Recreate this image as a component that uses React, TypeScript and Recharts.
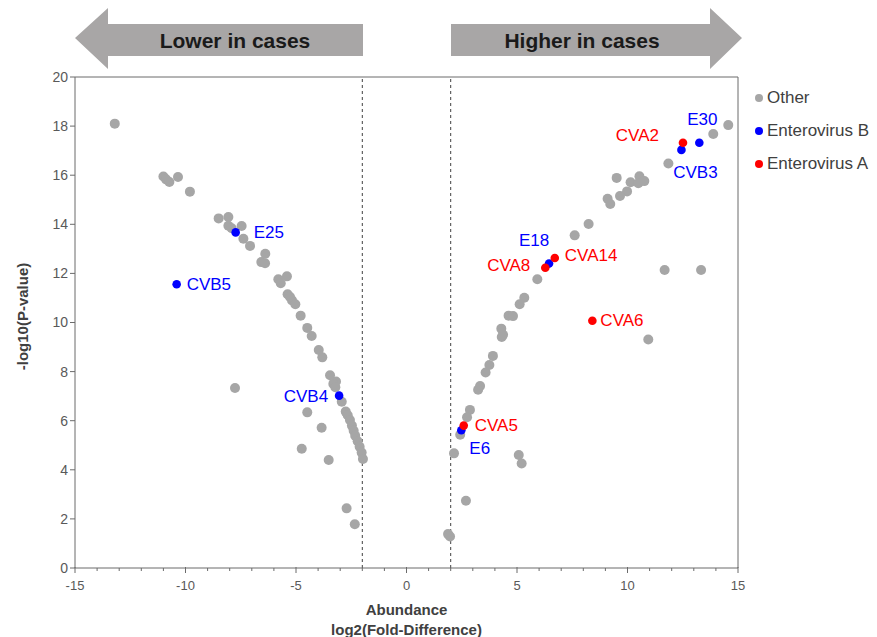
import {
  ScatterChart,
  Scatter,
  XAxis,
  YAxis,
  ReferenceLine,
  Label,
} from "recharts";

// "Other" viruses
const OTHER_X = [
  -13.2, -11.0, -10.88, -10.73, -10.34, -9.8, -8.5, -8.06, -8.06, -7.91, -7.46, -7.38,
  -7.08, -6.39, -6.57, -6.4, -5.8, -5.69, -5.41, -5.38, -5.27, -5.18, -5.03, -4.79,
  -4.49, -4.29, -3.97, -3.81, -3.46, -3.19, -3.31, -3.22, -2.93, -2.75, -2.66, -2.56,
  -2.47, -2.39, -2.32, -2.21, -2.12, -2.03, -1.97, -7.76, -4.49, -3.84, -4.74, -3.52,
  -2.71, -2.34,
  14.56, 13.88, 11.85, 9.51, 10.54, 10.14, 10.49, 10.76, 9.98, 9.66, 9.1, 9.22, 8.24,
  7.61, 11.68, 13.33, 5.92, 5.33, 5.12, 4.62, 4.82, 10.94, 4.29, 4.31, 4.37, 3.91,
  3.75, 3.58, 3.33, 3.24, 2.87, 2.74, 2.43, 2.15, 5.08, 5.21, 2.69, 1.88, 1.97,
];
const OTHER_Y = [
  18.1, 15.95, 15.83, 15.72, 15.93, 15.33, 14.24, 14.3, 13.94, 13.84, 13.93, 13.41,
  13.12, 12.8, 12.46, 12.41, 11.76, 11.6, 11.88, 11.15, 11.04, 10.9, 10.74, 10.28,
  9.78, 9.45, 8.88, 8.58, 7.85, 7.6, 7.5, 7.36, 6.77, 6.37, 6.22, 6.03,
  5.8, 5.59, 5.39, 5.16, 4.94, 4.7, 4.44, 7.33, 6.34, 5.71, 4.86, 4.4,
  2.43, 1.78,
  18.04, 17.68, 16.48, 15.89, 15.96, 15.71, 15.67, 15.76, 15.34, 15.15, 15.04, 14.83, 14.01,
  13.55, 12.14, 12.14, 11.76, 11.01, 10.74, 10.28, 10.26, 9.31, 9.75, 9.41, 9.5, 8.64,
  8.27, 7.96, 7.41, 7.26, 6.44, 6.14, 5.43, 4.67, 4.6, 4.26, 2.74, 1.38, 1.28,
];

// Enterovirus B
const ENT_B_NAMES = ["E25", "CVB5", "CVB4", "E30", "CVB3", "E18", "E6"];
const ENT_B_X = [-7.73, -10.4, -3.05, 13.25, 12.44, 6.45, 2.48];
const ENT_B_Y = [13.67, 11.56, 7.02, 17.32, 17.03, 12.4, 5.61];

// Enterovirus A
const ENT_A_NAMES = ["CVA2", "CVA14", "CVA8", "CVA6", "CVA5"];
const ENT_A_X = [12.51, 6.71, 6.28, 8.41, 2.59];
const ENT_A_Y = [17.32, 12.63, 12.23, 10.07, 5.8];

const X_TICKS = Array.from({ length: 31 }, (_, i) => i - 15);
const Y_TICKS = [0, 2, 4, 6, 8, 10, 12, 14, 16, 18, 20];

const GRAY = "#a6a6a6";
const BLUE = "#0000ff";
const RED = "#ff0000";
const AXIS = "#6b6b6b";
const TICK_TEXT = "#595959";
const NARROW = "'Liberation Sans Narrow', 'Liberation Sans', Arial, sans-serif";
const SANS = "'Liberation Sans', Arial, sans-serif";

// where each point label sits relative to its dot
const LABEL_PLACE: Record<string, { dx: number; dy: number; anchor: string }> = {
  E25: { dx: 18, dy: 0, anchor: "start" },
  CVB5: { dx: 10, dy: 0, anchor: "start" },
  CVB4: { dx: -11, dy: 1, anchor: "end" },
  E30: { dx: 3, dy: -23, anchor: "middle" },
  CVA2: { dx: -24, dy: -7, anchor: "end" },
  CVB3: { dx: 14, dy: 23, anchor: "middle" },
  E18: { dx: -15, dy: -23, anchor: "middle" },
  CVA14: { dx: 10, dy: -2, anchor: "start" },
  CVA8: { dx: -15, dy: -2, anchor: "end" },
  CVA6: { dx: 8, dy: 0, anchor: "start" },
  CVA5: { dx: 11, dy: 0, anchor: "start" },
  E6: { dx: 8, dy: 18, anchor: "start" },
};

const otherData = OTHER_X.map((x, i) => ({ x, y: OTHER_Y[i] }));
const entBData = ENT_B_NAMES.map((name, i) => ({ name, x: ENT_B_X[i], y: ENT_B_Y[i] }));
const entAData = ENT_A_NAMES.map((name, i) => ({ name, x: ENT_A_X[i], y: ENT_A_Y[i] }));

const grayDot = (props: any) => (
  <circle cx={props.cx} cy={props.cy} r={5} fill={GRAY} />
);

const labelledDot = (color: string) => (props: any) => {
  const p = LABEL_PLACE[props.payload?.name] || { dx: 10, dy: 0, anchor: "start" };
  return (
    <g>
      <circle cx={props.cx} cy={props.cy} r={4.3} fill={color} />
      <text
        x={props.cx + p.dx}
        y={props.cy + p.dy}
        textAnchor={p.anchor as any}
        dominantBaseline="central"
        fontSize={17}
        fontFamily={SANS}
        fill={color}
      >
        {props.payload?.name}
      </text>
    </g>
  );
};

// tick y arrives 8px below the axis line (tickSize 6 + margin 2)
const XTick = (props: any) => {
  const { x, y, payload } = props;
  const major = payload.value % 5 === 0;
  const axisY = y - 8;
  return (
    <g>
      <line x1={x} x2={x} y1={axisY - (major ? 1 : 0)} y2={axisY + (major ? 5 : 3)} stroke={AXIS} />
      {major && (
        <text x={x} y={axisY + 22} textAnchor="middle" fontSize={13} fontFamily={SANS} fill={TICK_TEXT}>
          {payload.value}
        </text>
      )}
    </g>
  );
};

const XTitle = (props: any) => {
  const vb = props.viewBox || {};
  const cx = vb.x + vb.width / 2;
  return (
    <text textAnchor="middle" fontSize={15} fontWeight="bold" fontFamily={NARROW} fill="#404040">
      <tspan x={cx} y={615}>Abundance</tspan>
      <tspan x={cx} y={635}>log2(Fold-Difference)</tspan>
    </text>
  );
};

const LEGEND_ITEMS = [
  { label: "Other", color: GRAY },
  { label: "Enterovirus B", color: BLUE },
  { label: "Enterovirus A", color: RED },
];

function Arrows() {
  return (
    <svg
      width={877}
      height={80}
      style={{ position: "absolute", left: 0, top: 0, pointerEvents: "none" }}
    >
      <polygon points="75,38 108,8 108,24 363,24 363,56 108,56 108,69" fill="#a8a6a6" />
      <polygon points="742,38 710,8 710,24 451,24 451,56 710,56 710,69" fill="#a8a6a6" />
      <text x={235} y={48} textAnchor="middle" fontSize={21} fontWeight="bold" fontFamily={NARROW} fill="#1a1a1a">
        Lower in cases
      </text>
      <text x={582} y={48} textAnchor="middle" fontSize={21} fontWeight="bold" fontFamily={NARROW} fill="#1a1a1a">
        Higher in cases
      </text>
    </svg>
  );
}

function LegendBox() {
  return (
    <div style={{ position: "absolute", left: 752, top: 81 }}>
      {LEGEND_ITEMS.map((it) => (
        <div
          key={it.label}
          style={{ display: "flex", alignItems: "center", height: 33, fontFamily: SANS, fontSize: 17, color: "#404040" }}
        >
          <span
            style={{ width: 8, height: 8, borderRadius: 4, background: it.color, marginRight: 4, marginLeft: 3 }}
          />
          {it.label}
        </div>
      ))}
    </div>
  );
}

export default function App() {
  return (
    <div style={{ position: "absolute", left: 0, top: 0, width: 877, height: 637, background: "#fff" }}>
      <ScatterChart width={877} height={637} margin={{ top: 77, right: 139, bottom: 39, left: 30 }}>
        <XAxis
          type="number"
          dataKey="x"
          domain={[-15, 15]}
          ticks={X_TICKS}
          interval={0}
          tick={<XTick />}
          tickLine={false}
          axisLine={{ stroke: AXIS }}
          height={30}
        >
          <Label content={<XTitle />} />
        </XAxis>
        <YAxis
          type="number"
          dataKey="y"
          domain={[0, 20]}
          ticks={Y_TICKS}
          interval={0}
          width={45}
          tick={{ fontSize: 14, fill: TICK_TEXT, fontFamily: SANS }}
          tickLine={{ stroke: AXIS }}
          tickSize={5}
          axisLine={{ stroke: AXIS }}
        >
          <Label
            value="-log10(P-value)"
            angle={-90}
            position="insideLeft"
            offset={-7}
            dy={-6}
            style={{ textAnchor: "middle", fontSize: 15, fontWeight: "bold", fontFamily: NARROW, fill: "#404040" }}
          />
        </YAxis>
        <ReferenceLine y={20} stroke={AXIS} />
        <ReferenceLine x={15} stroke={AXIS} />
        <ReferenceLine x={-2} stroke="#404040" strokeDasharray="3 3" />
        <ReferenceLine x={2} stroke="#404040" strokeDasharray="3 3" />
        <Scatter name="Other" data={otherData} shape={grayDot} isAnimationActive={false} />
        <Scatter name="Enterovirus B" data={entBData} shape={labelledDot(BLUE)} isAnimationActive={false} />
        <Scatter name="Enterovirus A" data={entAData} shape={labelledDot(RED)} isAnimationActive={false} />
      </ScatterChart>
      <Arrows />
      <LegendBox />
    </div>
  );
}
